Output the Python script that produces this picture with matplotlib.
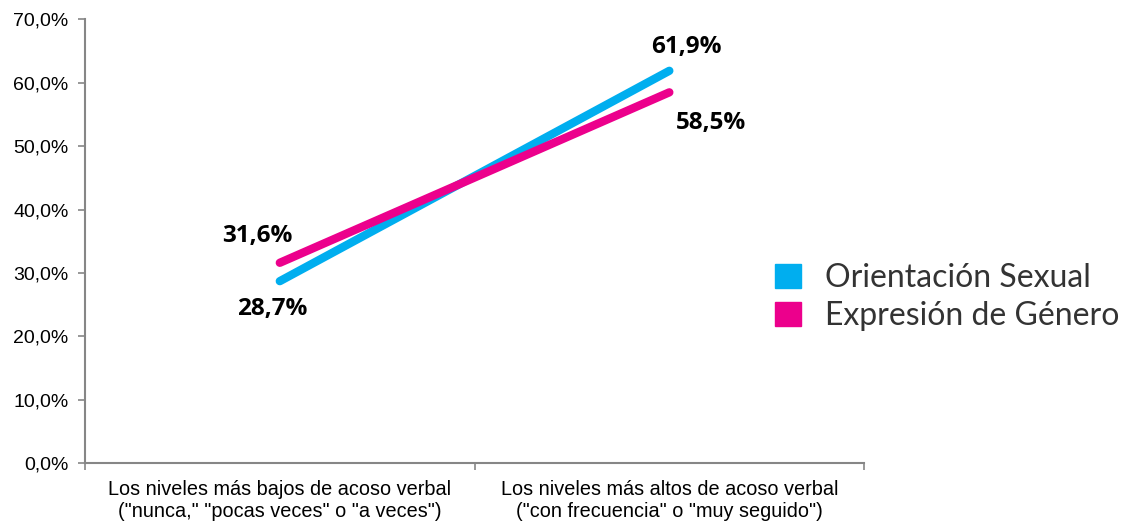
import matplotlib
matplotlib.use('Agg')
import matplotlib.pyplot as plt
from matplotlib.patches import Patch
import matplotlib.ticker as mtick

#%% data
categories = ['Los niveles más bajos de acoso verbal\n("nunca," "pocas veces" o "a veces")',
              'Los niveles más altos de acoso verbal\n("con frecuencia" o "muy seguido")']
orientacion = [28.7, 61.9]
expresion = [31.6, 58.5]
series_names = ['Orientación Sexual', 'Expresión de Género']
colors = ['#00AEEF', '#EC008C']

#%% figure
fig = plt.figure(figsize=(11.31, 5.22), dpi=100)
ax = fig.add_axes([0.0752, 0.113, 0.6888, 0.8497])

xpos = [0.5, 1.5]
ax.plot(xpos, orientacion, color=colors[0], lw=6, solid_capstyle='round')
ax.plot(xpos, expresion, color=colors[1], lw=6, solid_capstyle='round')

ax.set_xlim(0, 2)
ax.set_ylim(0, 70)

# value labels
lab_font = dict(family='Open Sans', fontweight='bold', fontsize=17.5, color='black')
ax.annotate('{:.1f}%'.format(orientacion[0]).replace('.', ','), (xpos[0], orientacion[0]),
            xytext=(-8, -28), textcoords='offset pixels', ha='center', va='center', **lab_font)
ax.annotate('{:.1f}%'.format(expresion[0]).replace('.', ','), (xpos[0], expresion[0]),
            xytext=(-22, 27), textcoords='offset pixels', ha='center', va='center', **lab_font)
ax.annotate('{:.1f}%'.format(orientacion[1]).replace('.', ','), (xpos[1], orientacion[1]),
            xytext=(17, 24), textcoords='offset pixels', ha='center', va='center', **lab_font)
ax.annotate('{:.1f}%'.format(expresion[1]).replace('.', ','), (xpos[1], expresion[1]),
            xytext=(42, -31), textcoords='offset pixels', ha='center', va='center', **lab_font)

# axes styling
for s in ['top', 'right']:
    ax.spines[s].set_visible(False)
for s in ['left', 'bottom']:
    ax.spines[s].set_color('#868686')
    ax.spines[s].set_linewidth(1.5)

ax.yaxis.set_major_locator(mtick.MultipleLocator(10))
ax.yaxis.set_major_formatter(mtick.FuncFormatter(lambda v, p: '{:.1f}%'.format(v).replace('.', ',')))
ax.tick_params(axis='y', direction='out', length=5, color='#868686', width=1.2, pad=7,
               labelsize=14, labelfontfamily='Liberation Sans')

ax.set_xticks([0, 1, 2])
ax.set_xticklabels([])
ax.set_xticks(xpos, minor=True)
ax.set_xticklabels(categories, minor=True)
ax.tick_params(axis='x', which='major', direction='out', length=5, color='#868686', width=1.2)
ax.tick_params(axis='x', which='minor', length=0, pad=12, labelsize=14.3)
for t in ax.get_xticklabels(minor=True):
    t.set_family('Liberation Sans')
    t.set_linespacing(1.2)

# legend
handles = [Patch(color=c, label=n) for c, n in zip(colors, series_names)]
leg = fig.legend(handles=handles, loc='center left', bbox_to_anchor=(0.66, 0.431),
                 frameon=False, handlelength=0.8, handleheight=0.8, handletextpad=0.75,
                 labelspacing=0.25, prop={'family': 'Lato', 'weight': 'normal', 'size': 23})
for t in leg.get_texts():
    t.set_color('#333333')

plt.savefig('out.png', dpi=100)
